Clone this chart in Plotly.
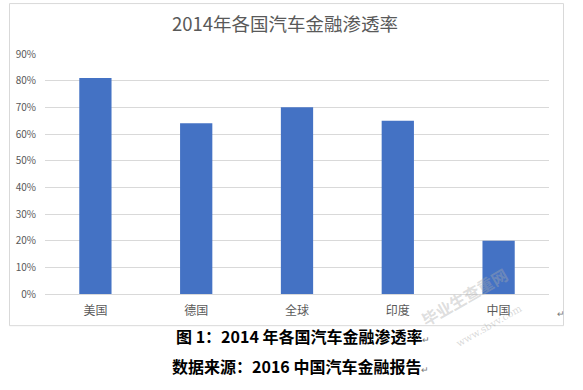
import plotly.graph_objects as go

categories = ["美国", "德国", "全球", "印度", "中国"]
values = [0.81, 0.64, 0.70, 0.65, 0.20]
y_ticks = [0, 0.1, 0.2, 0.3, 0.4, 0.5, 0.6, 0.7, 0.8, 0.9]
y_tick_labels = ["0%", "10%", "20%", "30%", "40%", "50%", "60%", "70%", "80%", "90%"]
title_text = "2014年各国汽车金融渗透率"
caption1 = "图 1：2014 年各国汽车金融渗透率"
caption2 = "数据来源：2016 中国汽车金融报告"

W, H = 583, 390
L, R, T, B = 45, 549, 54, 294.3  # plot area pixels
pw, ph = R - L, B - T

def px(x):
    return (x - L) / pw

def py(y):
    return (B - y) / ph

fig = go.Figure(go.Bar(
    x=categories, y=values, marker_color="#4472C4", marker_line_width=0,
    width=0.32,
))

fig.update_layout(
    width=W, height=H,
    margin=dict(l=L, r=W - R, t=T, b=H - B, pad=0),
    paper_bgcolor="white", plot_bgcolor="white",
    showlegend=False,
    font=dict(family="Noto Sans CJK SC, sans-serif", color="#595959"),
    title=dict(text=title_text, x=285 / W, xanchor="center", y=1 - 25 / H,
               yanchor="middle", yref="container",
               font=dict(size=18.5, color="#595959", family="Noto Sans CJK SC, sans-serif")),
    xaxis=dict(showgrid=False, showline=True, linecolor="#d9d9d9", linewidth=1,
               ticks="", tickfont=dict(size=12, color="#595959"), ticklabelstandoff=6),
    yaxis=dict(range=[0, 0.9], tickvals=y_ticks, ticktext=y_tick_labels,
               showgrid=True, gridcolor="#d9d9d9", gridwidth=1, zeroline=False,
               showline=False, ticks="", tickfont=dict(size=10, color="#595959"),
               ticklabelstandoff=8),
)

# chart border
fig.add_shape(type="rect", xref="paper", yref="paper",
              x0=px(9.5), x1=px(563.5), y0=py(326), y1=py(3.5),
              line=dict(color="#d9d9d9", width=1), fillcolor="rgba(0,0,0,0)", layer="below")

# captions
ret = "<span style='font-size:9px;color:#777777;font-weight:normal'>↵</span>"
fig.add_annotation(xref="paper", yref="paper", x=px(303), y=py(350), showarrow=False,
                   text="<b>" + caption1 + "</b>" + ret,
                   font=dict(size=16, color="black", family="Noto Sans CJK SC, sans-serif"))
fig.add_annotation(xref="paper", yref="paper", x=px(300), y=py(380), showarrow=False,
                   text="<b>" + caption2 + "</b>" + ret,
                   font=dict(size=16, color="black", family="Noto Sans CJK SC, sans-serif"))
fig.add_annotation(xref="paper", yref="paper", x=px(567), y=py(322), showarrow=False,
                   text="↵", font=dict(size=9, color="#777777"))

# watermark
fig.add_annotation(xref="paper", yref="paper", x=px(514), y=py(334), showarrow=False,
                   text="<b>毕业生查重网</b>", textangle=-30,
                   font=dict(size=16, color="rgba(170,170,170,0.4)", family="Noto Sans CJK SC, sans-serif"))
fig.add_annotation(xref="paper", yref="paper", x=px(527), y=py(352), showarrow=False,
                   text="www.sbvv.com", textangle=-30,
                   font=dict(size=10, color="rgba(170,170,170,0.45)", family="DejaVu Serif, serif"))

fig.write_html("out.html", config={"displayModeBar": False},
               post_script="document.body.style.margin='0px';document.body.style.overflow='hidden';")
